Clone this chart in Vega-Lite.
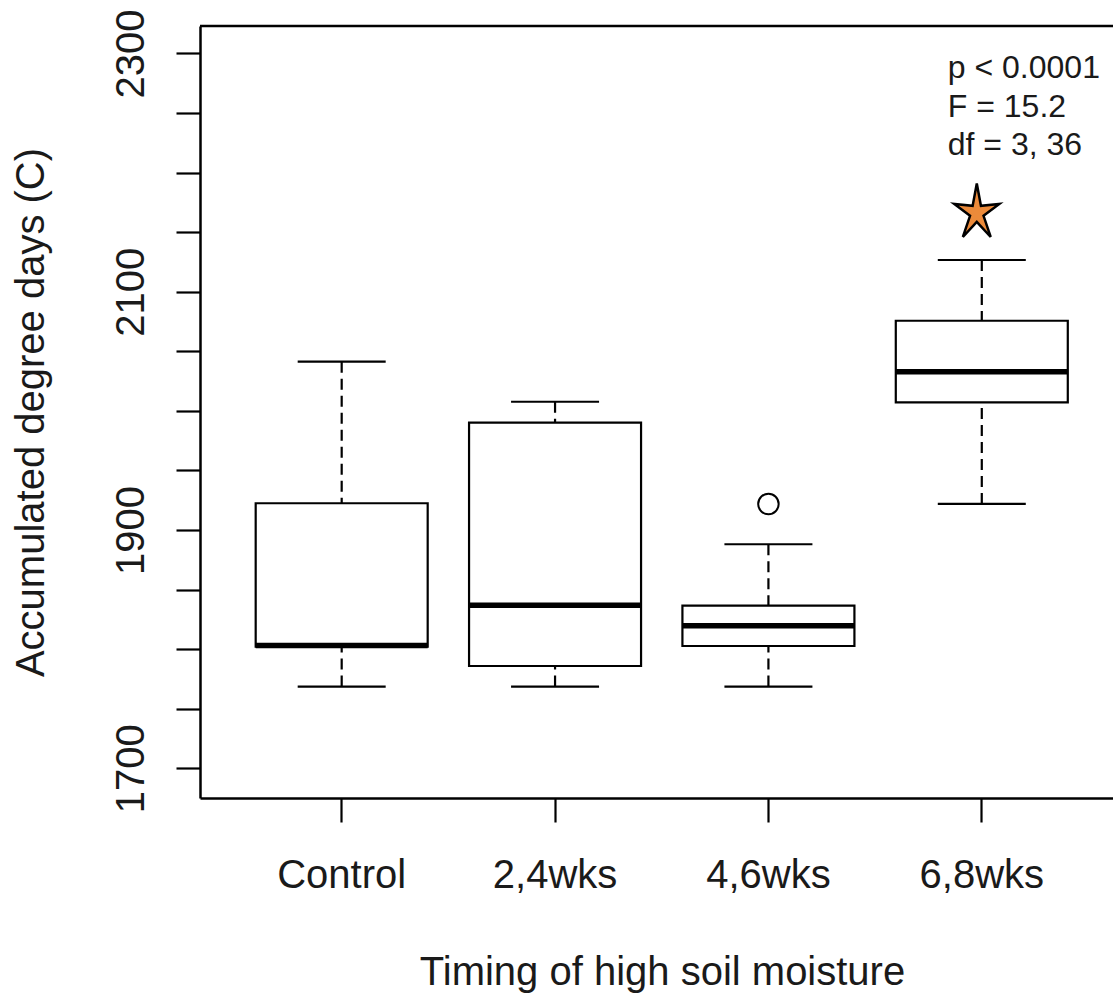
{
  "$schema": "https://vega.github.io/schema/vega-lite/v6.json",
  "autosize": "none",
  "width": 913,
  "height": 772,
  "padding": {"left": 200, "top": 26, "right": 0, "bottom": 195},
  "background": "white",
  "datasets": {
    "stats": [
      {"group": "Control", "lower": 1768.5, "q1": 1802, "median": 1803, "q3": 1922.4, "upper": 2041.2},
      {"group": "2,4wks", "lower": 1768.5, "q1": 1785.8, "median": 1836.7, "q3": 1990, "upper": 2007.6},
      {"group": "4,6wks", "lower": 1768.5, "q1": 1802.6, "median": 1819.6, "q3": 1836.4, "upper": 1888},
      {"group": "6,8wks", "lower": 1921.8, "q1": 2007.1, "median": 2032.8, "q3": 2075.6, "upper": 2126.6}
    ],
    "outliers": [{"group": "4,6wks", "value": 1921.8}],
    "signif": [{"group": "6,8wks", "value": 2166}],
    "frame": [{"top": 2323}],
    "note": [{"group": "6,8wks", "value": 2279}]
  },
  "layer": [
    {
      "data": {"name": "frame"},
      "mark": {"type": "rule", "color": "black", "strokeWidth": 2.5},
      "encoding": {
        "y": {"field": "top", "type": "quantitative", "scale": {"domain": [1675, 2323], "nice": false, "zero": false}, "title": "Accumulated degree days (C)"}
      }
    },
    {
      "data": {"name": "stats"},
      "mark": {"type": "rule", "color": "black", "strokeWidth": 2.2, "strokeDash": [11, 6]},
      "encoding": {
        "x": {"field": "group", "type": "nominal", "sort": ["Control", "2,4wks", "4,6wks", "6,8wks"], "scale": {"domain": ["Control", "2,4wks", "4,6wks", "6,8wks"], "paddingInner": 0, "paddingOuter": 0.1395, "align": 0.588}, "title": "Timing of high soil moisture"},
        "y": {"field": "upper", "type": "quantitative", "scale": {"domain": [1675, 2323], "nice": false, "zero": false}, "title": "Accumulated degree days (C)"},
        "y2": {"field": "q3"}
      }
    },
    {
      "data": {"name": "stats"},
      "mark": {"type": "rule", "color": "black", "strokeWidth": 2.2, "strokeDash": [11, 6]},
      "encoding": {
        "x": {"field": "group", "type": "nominal", "sort": ["Control", "2,4wks", "4,6wks", "6,8wks"], "title": "Timing of high soil moisture"},
        "y": {"field": "lower", "type": "quantitative", "title": "Accumulated degree days (C)"},
        "y2": {"field": "q1"}
      }
    },
    {
      "data": {"name": "stats"},
      "mark": {"type": "tick", "color": "black", "size": 88, "thickness": 2.2, "opacity": 1},
      "encoding": {
        "x": {"field": "group", "type": "nominal", "sort": ["Control", "2,4wks", "4,6wks", "6,8wks"], "title": "Timing of high soil moisture"},
        "y": {"field": "upper", "type": "quantitative", "title": "Accumulated degree days (C)"}
      }
    },
    {
      "data": {"name": "stats"},
      "mark": {"type": "tick", "color": "black", "size": 88, "thickness": 2.2, "opacity": 1},
      "encoding": {
        "x": {"field": "group", "type": "nominal", "sort": ["Control", "2,4wks", "4,6wks", "6,8wks"], "title": "Timing of high soil moisture"},
        "y": {"field": "lower", "type": "quantitative", "title": "Accumulated degree days (C)"}
      }
    },
    {
      "data": {"name": "stats"},
      "mark": {"type": "bar", "fill": "white", "stroke": "black", "strokeWidth": 2.2, "width": 172},
      "encoding": {
        "x": {"field": "group", "type": "nominal", "sort": ["Control", "2,4wks", "4,6wks", "6,8wks"], "title": "Timing of high soil moisture"},
        "y": {"field": "q1", "type": "quantitative", "title": "Accumulated degree days (C)"},
        "y2": {"field": "q3"}
      }
    },
    {
      "data": {"name": "stats"},
      "mark": {"type": "tick", "color": "black", "size": 172, "thickness": 5.5, "opacity": 1},
      "encoding": {
        "x": {"field": "group", "type": "nominal", "sort": ["Control", "2,4wks", "4,6wks", "6,8wks"], "title": "Timing of high soil moisture"},
        "y": {"field": "median", "type": "quantitative", "title": "Accumulated degree days (C)"}
      }
    },
    {
      "data": {"name": "outliers"},
      "mark": {"type": "point", "shape": "circle", "filled": false, "stroke": "black", "strokeWidth": 2, "size": 420, "opacity": 1},
      "encoding": {
        "x": {"field": "group", "type": "nominal", "sort": ["Control", "2,4wks", "4,6wks", "6,8wks"], "title": "Timing of high soil moisture"},
        "y": {"field": "value", "type": "quantitative", "title": "Accumulated degree days (C)"}
      }
    },
    {
      "data": {"name": "signif"},
      "mark": {"type": "point", "shape": "M0,-1L0.141,-0.243L0.761,-0.309L0.228,0.093L0.47,0.809L0,0.3L-0.47,0.809L-0.228,0.093L-0.761,-0.309L-0.141,-0.243Z", "filled": true, "fill": "#EC8A3A", "stroke": "black", "strokeWidth": 2.5, "size": 3500, "opacity": 1, "xOffset": -5},
      "encoding": {
        "x": {"field": "group", "type": "nominal", "sort": ["Control", "2,4wks", "4,6wks", "6,8wks"], "title": "Timing of high soil moisture"},
        "y": {"field": "value", "type": "quantitative", "title": "Accumulated degree days (C)"}
      }
    },
    {
      "data": {"name": "note"},
      "mark": {"type": "text", "text": ["p < 0.0001", "F = 15.2", "df = 3, 36"], "align": "left", "baseline": "alphabetic", "dx": -34, "fontSize": 32, "lineHeight": 38.5, "font": "Liberation Sans", "color": "#1a1a1a"},
      "encoding": {
        "x": {"field": "group", "type": "nominal", "sort": ["Control", "2,4wks", "4,6wks", "6,8wks"], "title": "Timing of high soil moisture"},
        "y": {"field": "value", "type": "quantitative", "title": "Accumulated degree days (C)"}
      }
    }
  ],
  "config": {
    "view": {"stroke": null},
    "font": "Liberation Sans",
    "axis": {
      "domainColor": "black", "domainWidth": 2.5,
      "tickColor": "black", "tickWidth": 2.2, "tickSize": 24,
      "labelFont": "Liberation Sans", "labelFontSize": 40, "labelColor": "#1a1a1a",
      "titleFont": "Liberation Sans", "titleFontSize": 40, "titleFontWeight": "normal", "titleColor": "#1a1a1a",
      "grid": false
    },
    "axisX": {
      "labelAngle": 0, "labelBaseline": "alphabetic", "labelPadding": 65, "labelAlign": "center",
      "titleX": 462, "titleY": 186, "titleBaseline": "alphabetic", "titleAlign": "center"
    },
    "axisY": {
      "labelAngle": -90, "labelAlign": "center", "labelBaseline": "alphabetic", "labelPadding": 33,
      "values": [1700, 1800, 1900, 2000, 2100, 2200, 2300],
      "labelExpr": "datum.value % 200 === 100 ? format(datum.value, 'd') : ''",
      "titleX": -157, "titleY": 386, "titleAngle": -90, "titleBaseline": "alphabetic", "titleAlign": "center"
    }
  }
}
